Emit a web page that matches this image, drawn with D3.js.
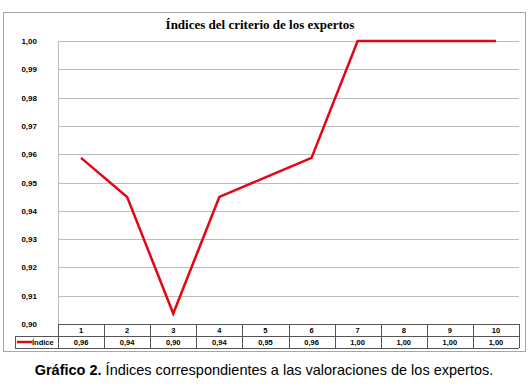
<!DOCTYPE html>
<html>
<head>
<meta charset="utf-8">
<script src="https://cdn.jsdelivr.net/npm/d3@7"></script>
<style>
  body { margin: 0; background: #fff; }
  text { font-family: "Liberation Sans", Arial, sans-serif; }
</style>
</head>
<body>
<div id="Chart"></div>
<script>
var w = 532;
var h = 388;

var categories = ["1", "2", "3", "4", "5", "6", "7", "8", "9", "10"];
var values = [0.9587, 0.9449, 0.9037, 0.9449, 0.9518, 0.9587, 1.00, 1.00, 1.00, 1.00];
var tableLabels = ["0,96", "0,94", "0,90", "0,94", "0,95", "0,96", "1,00", "1,00", "1,00", "1,00"];
var yTicks = [0.90, 0.91, 0.92, 0.93, 0.94, 0.95, 0.96, 0.97, 0.98, 0.99, 1.00];
var seriesName = "Índice";

var pLeft = 58, pRight = 519, pTop = 41, pBottom = 324;
var rowH = 12;

var svg = d3.select("#Chart").append("svg")
    .attr("width", w)
    .attr("height", h);

// outer frame
svg.append("rect")
    .attr("x", 3.5).attr("y", 12.5)
    .attr("width", 522).attr("height", 339)
    .attr("fill", "none")
    .attr("stroke", "#a6a6a6");

svg.append("text")
    .attr("x", 260).attr("y", 29)
    .attr("text-anchor", "middle")
    .style("font-family", "'Liberation Serif', 'Times New Roman', serif")
    .style("font-weight", "bold")
    .style("font-size", "13px")
    .text("Índices del criterio de los expertos");

var x = d3.scaleBand()
    .domain(categories)
    .range([pLeft, pRight]);

var y = d3.scaleLinear()
    .domain([0.90, 1.00])
    .range([pBottom, pTop]);

// gridlines
svg.append("g").selectAll("line")
    .data(yTicks)
    .enter()
    .append("line")
    .attr("x1", pLeft).attr("x2", pRight)
    .attr("y1", function(d){ return Math.round(y(d)) + 0.5; })
    .attr("y2", function(d){ return Math.round(y(d)) + 0.5; })
    .attr("stroke", "#bdbdbd");

svg.append("line")
    .attr("x1", pLeft + 0.5).attr("x2", pLeft + 0.5)
    .attr("y1", pTop).attr("y2", pBottom)
    .attr("stroke", "#bdbdbd");

// y labels
svg.append("g").selectAll("text")
    .data(yTicks)
    .enter()
    .append("text")
    .attr("x", 37)
    .attr("y", function(d){ return y(d) + 3; })
    .attr("text-anchor", "end")
    .style("font-size", "8px")
    .style("font-weight", "bold")
    .text(function(d){ return d3.format(".2f")(d).replace(".", ","); });

// data table
var tbl = svg.append("g");
var tBottom = pBottom + 2 * rowH;

tbl.append("line")
    .attr("x1", 15).attr("x2", pRight)
    .attr("y1", pBottom + rowH + 0.5).attr("y2", pBottom + rowH + 0.5)
    .attr("stroke", "#555");
tbl.append("line")
    .attr("x1", 15).attr("x2", pRight)
    .attr("y1", tBottom + 0.5).attr("y2", tBottom + 0.5)
    .attr("stroke", "#555");
tbl.append("line")
    .attr("x1", pLeft).attr("x2", pRight)
    .attr("y1", pBottom + 0.5).attr("y2", pBottom + 0.5)
    .attr("stroke", "#555");
tbl.append("line")
    .attr("x1", 15.5).attr("x2", 15.5)
    .attr("y1", pBottom + rowH).attr("y2", tBottom)
    .attr("stroke", "#555");
tbl.append("line")
    .attr("x1", pLeft + 0.5).attr("x2", pLeft + 0.5)
    .attr("y1", pBottom).attr("y2", tBottom)
    .attr("stroke", "#555");

tbl.selectAll("line.sep")
    .data(categories)
    .enter()
    .append("line")
    .attr("class", "sep")
    .attr("x1", function(d){ return Math.round(x(d) + x.bandwidth()) + 0.5; })
    .attr("x2", function(d){ return Math.round(x(d) + x.bandwidth()) + 0.5; })
    .attr("y1", pBottom).attr("y2", tBottom)
    .attr("stroke", "#555");

tbl.selectAll("text.cat")
    .data(categories)
    .enter()
    .append("text")
    .attr("class", "cat")
    .attr("x", function(d){ return x(d) + x.bandwidth() / 2; })
    .attr("y", pBottom + 9)
    .attr("text-anchor", "middle")
    .style("font-size", "7.5px")
    .style("font-weight", "bold")
    .text(function(d){ return d; });

tbl.selectAll("text.val")
    .data(tableLabels)
    .enter()
    .append("text")
    .attr("class", "val")
    .attr("x", function(d, i){ return x(categories[i]) + x.bandwidth() / 2; })
    .attr("y", pBottom + rowH + 9)
    .attr("text-anchor", "middle")
    .style("font-size", "7.5px")
    .style("font-weight", "bold")
    .text(function(d){ return d; });

// legend key in table
tbl.append("line")
    .attr("x1", 17).attr("x2", 32)
    .attr("y1", pBottom + rowH + 6).attr("y2", pBottom + rowH + 6)
    .attr("stroke", "#e30613")
    .attr("stroke-width", 2.5);
tbl.append("text")
    .attr("x", 32)
    .attr("y", pBottom + rowH + 9)
    .style("font-size", "7.5px")
    .style("font-weight", "bold")
    .text(seriesName);

// series line
var line = d3.line()
    .x(function(d, i){ return x(categories[i]) + x.bandwidth() / 2; })
    .y(function(d){ return y(d); });

svg.append("path")
    .datum(values)
    .attr("d", line)
    .attr("fill", "none")
    .attr("stroke", "#e30613")
    .attr("stroke-width", 2.5)
    .attr("stroke-linejoin", "miter");

// caption
var cap = svg.append("text")
    .attr("x", 264)
    .attr("y", 375)
    .attr("text-anchor", "middle")
    .style("font-size", "14.5px");
cap.append("tspan").style("font-weight", "bold").text("Gráfico 2.");
cap.append("tspan").text(" Índices correspondientes a las valoraciones de los expertos.");
</script>
</body>
</html>
